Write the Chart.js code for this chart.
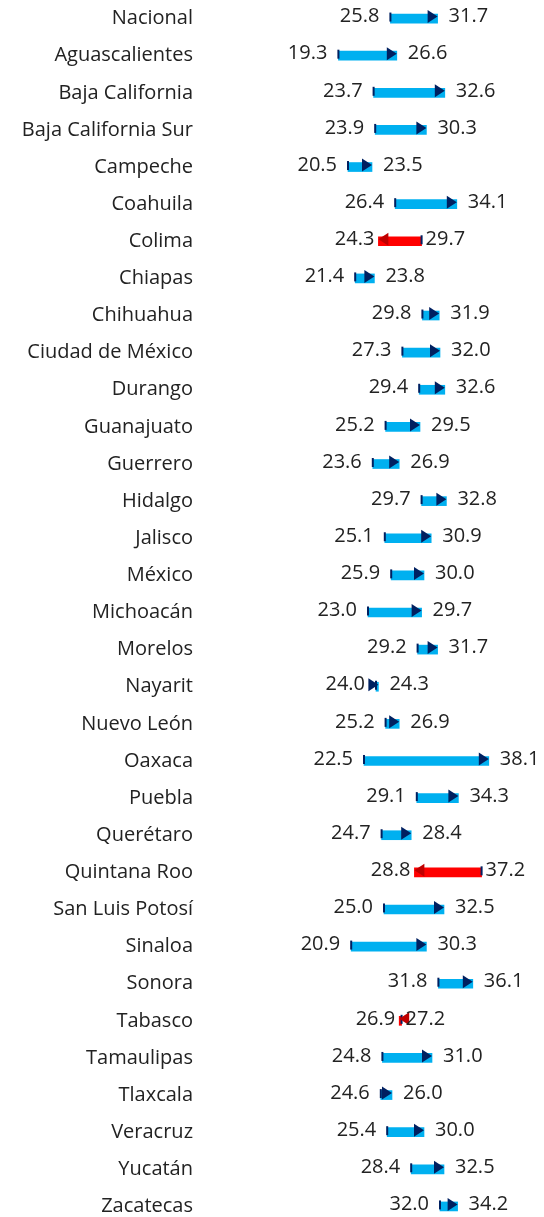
<!DOCTYPE html>
<html>
<head>
<meta charset="utf-8">
<script src="https://cdn.jsdelivr.net/npm/chart.js@4"></script>
<style>
  html, body { margin: 0; padding: 0; background: #fff; overflow: hidden; }
  #wrap { position: absolute; left: 0; top: 0; width: 544px; height: 1225px; }
</style>
</head>
<body>
<div id="wrap"><canvas id="chart"></canvas></div>
<script>
// Datos: valor inicial y valor final por entidad
const estados = ['Nacional', 'Aguascalientes', 'Baja California', 'Baja California Sur', 'Campeche',
  'Coahuila', 'Colima', 'Chiapas', 'Chihuahua', 'Ciudad de México', 'Durango', 'Guanajuato',
  'Guerrero', 'Hidalgo', 'Jalisco', 'México', 'Michoacán', 'Morelos', 'Nayarit', 'Nuevo León',
  'Oaxaca', 'Puebla', 'Querétaro', 'Quintana Roo', 'San Luis Potosí', 'Sinaloa', 'Sonora',
  'Tabasco', 'Tamaulipas', 'Tlaxcala', 'Veracruz', 'Yucatán', 'Zacatecas'];

const valorInicial = [25.8, 19.3, 23.7, 23.9, 20.5, 26.4, 29.7, 21.4, 29.8, 27.3, 29.4, 25.2,
  23.6, 29.7, 25.1, 25.9, 23.0, 29.2, 24.0, 25.2, 22.5, 29.1, 24.7, 37.2, 25.0, 20.9, 31.8,
  27.2, 24.8, 24.6, 25.4, 28.4, 32.0];

const valorFinal = [31.7, 26.6, 32.6, 30.3, 23.5, 34.1, 24.3, 23.8, 31.9, 32.0, 32.6, 29.5,
  26.9, 32.8, 30.9, 30.0, 29.7, 31.7, 24.3, 26.9, 38.1, 34.3, 28.4, 28.8, 32.5, 30.3, 36.1,
  26.9, 31.0, 26.0, 30.0, 32.5, 34.2];

const FONT = '"Open Sans", sans-serif';
const TEXT_COLOR = '#222222';

const sube = valorInicial.map((v, i) => valorFinal[i] >= v);

// Puntas de flecha, marca de inicio y etiquetas de valor
const flechasPlugin = {
  id: 'flechas',
  afterDatasetsDraw(chart) {
    const ctx = chart.ctx;
    const xs = chart.scales.x;
    const ys = chart.scales.y;
    ctx.save();
    estados.forEach((e, i) => {
      const y = ys.getPixelForValue(i) - 2;
      const x0 = xs.getPixelForValue(valorInicial[i]);
      const x1 = xs.getPixelForValue(valorFinal[i]);
      const up = sube[i];

      // marca de inicio
      ctx.fillStyle = '#002060';
      ctx.fillRect(x0 - 1, y - 4, 2, 9);

      // punta
      const dir = up ? 1 : -1;
      ctx.fillStyle = up ? '#002060' : '#c00000';
      ctx.beginPath();
      ctx.moveTo(x1, y);
      ctx.lineTo(x1 - dir * 10, y - 6.5);
      ctx.lineTo(x1 - dir * 10, y + 6.5);
      ctx.closePath();
      ctx.fill();

      // etiquetas
      const gap = up ? 11 : 4;
      const left = Math.min(x0, x1);
      const right = Math.max(x0, x1);
      const vLeft = Math.min(valorInicial[i], valorFinal[i]);
      const vRight = Math.max(valorInicial[i], valorFinal[i]);
      ctx.font = '20px ' + FONT;
      ctx.fillStyle = TEXT_COLOR;
      ctx.textBaseline = 'middle';
      ctx.textAlign = 'right';
      ctx.fillText(vLeft.toFixed(1), left - gap, y);
      ctx.textAlign = 'left';
      ctx.fillText(vRight.toFixed(1), right + gap, y);
    });
    ctx.restore();
  }
};

new Chart(document.getElementById('chart'), {
  type: 'bar',
  data: {
    labels: estados,
    datasets: [{
      data: estados.map((e, i) => [valorInicial[i], valorFinal[i]]),
      backgroundColor: sube.map(s => s ? '#00b0f0' : '#ff0000'),
      borderWidth: 0,
      borderSkipped: false,
      barThickness: 9
    }]
  },
  options: {
    indexAxis: 'y',
    responsive: true,
    maintainAspectRatio: false,
    animation: false,
    layout: { padding: 0 },
    plugins: {
      legend: { display: false },
      tooltip: { enabled: false }
    },
    scales: {
      x: {
        display: false,
        min: 1.5,
        max: 45
      },
      y: {
        afterFit(scale) {
          scale.width = 196;
          scale.paddingTop = 0;
          scale.paddingBottom = 0;
        },
        grid: { display: false, drawTicks: false },
        border: { display: false },
        ticks: {
          padding: 3,
          color: TEXT_COLOR,
          font: { family: FONT, size: 20 }
        }
      }
    }
  },
  plugins: [flechasPlugin]
});
</script>
</body>
</html>
